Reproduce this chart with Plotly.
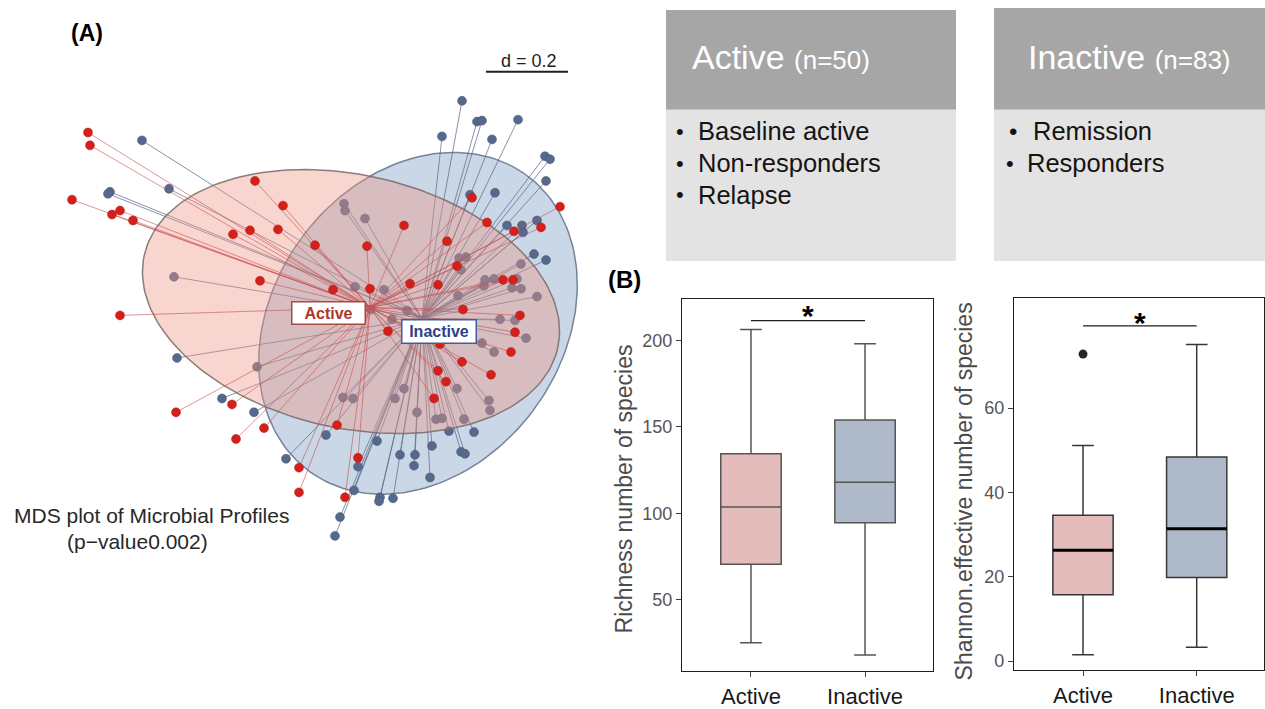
import numpy as np
import plotly.graph_objects as go

W, H = 1265, 709
FONT = "Liberation Sans, Arial, Helvetica, sans-serif"

# ---------------- Panel A: MDS ordination (plot units, y grows downward) ----------------
active_x = [88, 90, 72, 112, 120, 133, 255, 283, 233, 250, 278, 315, 367, 404, 447, 487, 472, 560,
            541, 514, 457, 260, 333, 370, 410, 438, 503, 513, 463, 520, 515, 511, 388, 440, 462, 491,
            438, 446, 434, 120, 176, 232, 264, 236, 337, 358, 299, 299, 345]
active_y = [134, 147, 202, 217, 213, 223, 183, 208, 237, 233, 232, 248, 249, 228, 244, 225, 200, 209,
            230, 234, 269, 284, 293, 292, 287, 288, 283, 283, 313, 319, 336, 356, 335, 348, 366, 379,
            375, 386, 403, 319, 417, 409, 433, 444, 430, 463, 473, 498, 503]
inactive_x = [462, 477, 482, 518, 442, 492, 545, 550, 546, 495, 470, 142, 110, 108, 169, 344, 345, 365,
              507, 522, 537, 534, 546, 459, 466, 461, 521, 485, 494, 484, 517, 512, 521, 537, 458, 355,
              384, 174, 371, 392, 407, 500, 515, 526, 482, 494, 177, 257, 404, 457, 343, 353, 395, 489,
              490, 417, 436, 442, 464, 222, 254, 326, 377, 449, 474, 432, 400, 415, 461, 465, 286, 358,
              414, 430, 354, 380, 379, 393, 340, 335, 523]
inactive_y = [102, 123, 122, 121, 138, 141, 158, 161, 183, 195, 197, 142, 194, 196, 191, 206, 213, 221,
              228, 228, 223, 257, 263, 261, 260, 273, 267, 283, 282, 289, 282, 291, 292, 300, 299, 290,
              293, 280, 313, 323, 314, 323, 324, 342, 347, 356, 362, 371, 393, 393, 402, 403, 403, 405,
              415, 417, 424, 423, 424, 403, 417, 440, 446, 436, 437, 451, 460, 460, 457, 459, 464, 472,
              471, 483, 496, 503, 507, 504, 523, 542, 235]
active_centroid = (370, 311)
inactive_centroid = (422, 322)
# dispersion ellipses: centre, semi-axes, tilt (deg)
active_ellipse = dict(cx=351, cy=305, a=212, b=128, ang=-13)
inactive_ellipse = dict(cx=418, cy=327, a=185, b=145, ang=55)

# ---------------- Panel B: alpha diversity boxplots ----------------
groups = ["Active", "Inactive"]
richness = dict(q1=[70.5, 94.5], median=[103.7, 118.0], q3=[134.4, 154.0],
                lowerfence=[25.1, 18.0], upperfence=[206.3, 198.1])
shannon = dict(q1=[15.7, 19.8], median=[26.3, 31.4], q3=[34.6, 48.4],
               lowerfence=[1.5, 3.3], upperfence=[51.1, 75.1])
shannon_outliers_x = [0]
shannon_outliers_y = [72.8]
richness_sig = 211.4
shannon_sig = 79.5

# text panel content
active_header, active_n = "Active", "(n=50)"
inactive_header, inactive_n = "Inactive", "(n=83)"
active_items = ["Baseline active", "Non-responders", "Relapse"]
inactive_items = ["Remission", "Responders"]


def PX(x):
    return x / W


def PY(y):
    return 1 - y / H


def ellipse_pts(e, n=200):
    t = np.linspace(0, 2 * np.pi, n)
    th = np.deg2rad(e["ang"])
    dx = e["a"] * np.cos(t) * np.cos(th) - e["b"] * np.sin(t) * np.sin(th)
    dy = e["a"] * np.cos(t) * np.sin(th) + e["b"] * np.sin(t) * np.cos(th)
    return e["cx"] + dx, e["cy"] - dy


def spokes(xs, ys, c):
    lx, ly = [], []
    for x, y in zip(xs, ys):
        lx += [x, c[0], None]
        ly += [y, c[1], None]
    return lx, ly


fig = go.Figure()

# blue group first
ex, ey = ellipse_pts(inactive_ellipse)
fig.add_trace(go.Scatter(x=ex, y=ey, mode="lines", fill="toself",
                         fillcolor="rgba(120,155,192,0.40)",
                         line=dict(color="rgba(105,120,145,0.9)", width=1.5),
                         hoverinfo="skip", xaxis="x", yaxis="y"))
lx, ly = spokes(inactive_x, inactive_y, inactive_centroid)
fig.add_trace(go.Scatter(x=lx, y=ly, mode="lines", line=dict(color="rgba(95,110,140,0.75)", width=1),
                         hoverinfo="skip", xaxis="x", yaxis="y"))
fig.add_trace(go.Scatter(x=inactive_x, y=inactive_y, mode="markers",
                         marker=dict(size=9, color="rgb(85,105,140)",
                                     line=dict(color="rgb(70,85,115)", width=0.5)),
                         hoverinfo="skip", xaxis="x", yaxis="y"))
# red group on top
ex, ey = ellipse_pts(active_ellipse)
fig.add_trace(go.Scatter(x=ex, y=ey, mode="lines", fill="toself",
                         fillcolor="rgba(237,150,135,0.40)",
                         line=dict(color="rgba(120,105,105,0.85)", width=1.5),
                         hoverinfo="skip", xaxis="x", yaxis="y"))
lx, ly = spokes(active_x, active_y, active_centroid)
fig.add_trace(go.Scatter(x=lx, y=ly, mode="lines", line=dict(color="rgba(200,80,80,0.6)", width=1),
                         hoverinfo="skip", xaxis="x", yaxis="y"))
fig.add_trace(go.Scatter(x=active_x, y=active_y, mode="markers",
                         marker=dict(size=9, color="rgb(212,32,26)",
                                     line=dict(color="rgb(180,25,20)", width=0.5)),
                         hoverinfo="skip", xaxis="x", yaxis="y"))

# ---------------- boxplots ----------------
fills = ["#e3bcbb", "#aeb9c9"]
BW = 0.53
for i in range(2):
    fig.add_trace(go.Box(x=[i], q1=[richness["q1"][i]], median=[richness["median"][i]],
                         q3=[richness["q3"][i]], lowerfence=[richness["lowerfence"][i]],
                         upperfence=[richness["upperfence"][i]], orientation="v",
                         width=BW, whiskerwidth=0.36, fillcolor=fills[i],
                         line=dict(color="rgb(85,85,85)", width=1.5), boxpoints=False,
                         hoverinfo="skip", xaxis="x2", yaxis="y2"))
    fig.add_trace(go.Box(x=[i], q1=[shannon["q1"][i]], median=[shannon["median"][i]],
                         q3=[shannon["q3"][i]], lowerfence=[shannon["lowerfence"][i]],
                         upperfence=[shannon["upperfence"][i]], orientation="v",
                         width=BW, whiskerwidth=0.36, fillcolor=fills[i],
                         line=dict(color="rgb(55,55,55)", width=1.5), boxpoints=False,
                         hoverinfo="skip", xaxis="x3", yaxis="y3"))
    fig.add_trace(go.Scatter(x=[i - BW / 2, i + BW / 2], y=[shannon["median"][i]] * 2, mode="lines",
                             line=dict(color="black", width=3), hoverinfo="skip",
                             xaxis="x3", yaxis="y3"))

fig.add_trace(go.Scatter(x=shannon_outliers_x, y=shannon_outliers_y, mode="markers",
                         marker=dict(size=9, color="rgb(40,40,40)"), hoverinfo="skip",
                         xaxis="x3", yaxis="y3"))
fig.add_trace(go.Scatter(x=[0, 1], y=[richness_sig] * 2, mode="lines",
                         line=dict(color="rgb(30,30,30)", width=1.2), hoverinfo="skip",
                         xaxis="x2", yaxis="y2"))
fig.add_trace(go.Scatter(x=[0, 1], y=[shannon_sig] * 2, mode="lines",
                         line=dict(color="rgb(30,30,30)", width=1.2), hoverinfo="skip",
                         xaxis="x3", yaxis="y3"))

hidden = dict(visible=False, showgrid=False, zeroline=False)
box_x = dict(showline=True, mirror=True, linecolor="rgb(30,30,30)", linewidth=1.3,
             ticks="outside", ticklen=5, tickcolor="rgb(60,60,60)", tickvals=[0, 1],
             ticktext=groups, showgrid=False, zeroline=False,
             tickfont=dict(family=FONT, size=22, color="rgb(25,25,25)"))
box_y = dict(showline=True, mirror=True, linecolor="rgb(30,30,30)", linewidth=1.3,
             ticks="outside", ticklen=5, tickcolor="rgb(60,60,60)", showgrid=False,
             zeroline=False, tickfont=dict(family=FONT, size=18, color="rgb(85,85,85)"))

fig.update_layout(
    width=W, height=H, margin=dict(l=0, r=0, t=0, b=0),
    paper_bgcolor="white", plot_bgcolor="rgba(0,0,0,0)", showlegend=False,
    xaxis=dict(domain=[0, PX(620)], range=[0, 620], **hidden),
    yaxis=dict(domain=[0, 1], range=[709, 0], **hidden),
    xaxis2=dict(domain=[PX(682), PX(933)], range=[-0.605, 1.596], anchor="y2", **box_x),
    yaxis2=dict(domain=[PY(679), PY(302)], range=[8.6, 224.2], anchor="x2",
                tickvals=[50, 100, 150, 200], **box_y),
    xaxis3=dict(domain=[PX(1014), PX(1264)], range=[-0.607, 1.592], anchor="y3", **box_x),
    yaxis3=dict(domain=[PY(678), PY(301)], range=[-2.2, 86.2], anchor="x3",
                tickvals=[0, 20, 40, 60], **box_y),
)

shapes = []
# text panels
shapes.append(dict(type="rect", xref="paper", yref="paper", x0=PX(666), x1=PX(956), y0=PY(111), y1=PY(10),
                   fillcolor="rgb(166,166,166)", line=dict(width=0), layer="above"))
shapes.append(dict(type="rect", xref="paper", yref="paper", x0=PX(666), x1=PX(956), y0=PY(264), y1=PY(111),
                   fillcolor="rgb(227,227,227)", line=dict(width=0), layer="above"))
shapes.append(dict(type="rect", xref="paper", yref="paper", x0=PX(994), x1=PX(1265), y0=PY(111), y1=PY(8),
                   fillcolor="rgb(166,166,166)", line=dict(width=0), layer="above"))
shapes.append(dict(type="rect", xref="paper", yref="paper", x0=PX(994), x1=PX(1265), y0=PY(264), y1=PY(111),
                   fillcolor="rgb(227,227,227)", line=dict(width=0), layer="above"))
# scale bar d = 0.2
shapes.append(dict(type="line", xref="paper", yref="paper", x0=PX(486), x1=PX(568), y0=PY(72.5), y1=PY(72.5),
                   line=dict(color="rgb(30,30,30)", width=2)))
fig.update_layout(shapes=shapes)

ann = []


def A(x, y, text, size, color="rgb(30,30,30)", xanchor="center", yanchor="middle", **kw):
    ann.append(dict(x=PX(x), y=PY(y), xref="paper", yref="paper", text=text, showarrow=False,
                    xanchor=xanchor, yanchor=yanchor,
                    font=dict(family=FONT, size=size, color=color), **kw))


A(87, 33, "<b>(A)</b>", 23, "black")
A(624, 283, "<b>(B)</b>", 24, "black")
A(529, 62, "d = 0.2", 18, "rgb(30,30,30)")
A(151, 521, "MDS plot of Microbial Profiles", 21, "rgb(40,40,40)")
A(137, 548, "(p\u2212value0.002)", 21, "rgb(40,40,40)")

# group labels on the ordination
ann.append(dict(x=328, y=317, xref="x", yref="y", text="<b>Active</b>", showarrow=False,
                font=dict(family=FONT, size=16, color="rgb(175,55,40)"), bgcolor="white",
                bordercolor="rgb(165,75,65)", borderwidth=1.5, borderpad=1, width=70, height=19))
ann.append(dict(x=439, y=335, xref="x", yref="y", text="<b>Inactive</b>", showarrow=False,
                font=dict(family=FONT, size=16, color="rgb(45,65,140)"), bgcolor="white",
                bordercolor="rgb(70,90,155)", borderwidth=1.5, borderpad=1, width=71, height=20))

# headers
A(690, 58, f"{active_header} <span style='font-size:26px'>{active_n}</span>", 34, "white",
  xanchor="left")
A(1026, 58, f"{inactive_header} <span style='font-size:26px'>{inactive_n}</span>", 34, "white",
  xanchor="left")
for k, item in enumerate(active_items):
    yy = 133 + 32 * k
    A(680, yy, "\u2022", 22, "rgb(20,20,20)")
    A(696, yy, item, 25.5, "rgb(20,20,20)", xanchor="left")
for k, item in enumerate(inactive_items):
    yy = 133 + 32 * k
    bx, tx = (1013, 1031) if k == 0 else (1010, 1025)
    A(bx, yy, "\u2022", 24 if k == 0 else 22, "rgb(20,20,20)")
    A(tx, yy, item, 25.5, "rgb(20,20,20)", xanchor="left")

# axis titles
A(624, 495, "Richness number of species", 23, "rgb(75,75,75)", textangle=-90)
A(964, 497, "Shannon.effective number of species", 23, "rgb(75,75,75)", textangle=-90)

# significance stars
ann.append(dict(x=0.5, y=richness_sig, xref="x2", yref="y2", text="<b>*</b>", showarrow=False,
                yanchor="bottom", yshift=-13, font=dict(family=FONT, size=30, color="black")))
ann.append(dict(x=0.5, y=shannon_sig, xref="x3", yref="y3", text="<b>*</b>", showarrow=False,
                yanchor="bottom", yshift=-15, font=dict(family=FONT, size=30, color="black")))

fig.update_layout(annotations=ann)
fig.write_html("out.html", config={"displayModeBar": False},
               post_script="document.body.style.margin='0';")
